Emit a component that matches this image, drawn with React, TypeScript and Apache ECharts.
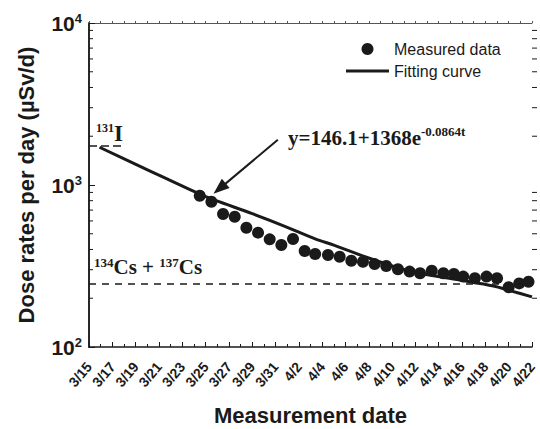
import { useEffect, useRef } from 'react';
import * as echarts from 'echarts';

// x axis: days since 3/15
const dateLabels = ['3/15', '3/17', '3/19', '3/21', '3/23', '3/25', '3/27', '3/29', '3/31', '4/2',
  '4/4', '4/6', '4/8', '4/10', '4/12', '4/14', '4/16', '4/18', '4/20', '4/22'];

const measuredDays = [9.5, 10.5, 11.5, 12.5, 13.5, 14.5, 15.5, 16.5, 17.5, 18.5,
  19.4, 20.5, 21.5, 22.5, 23.5, 24.5, 25.5, 26.5, 27.5, 28.4,
  29.4, 30.4, 31.3, 32.1, 33.1, 34.1, 35.0, 36.0, 36.9, 37.7];
const measuredValues = [859, 788, 662, 637, 545, 508, 462, 426, 464, 391,
  375, 370, 361, 341, 336, 325, 316, 302, 292, 285,
  296, 285, 282, 272, 266, 272, 266, 234, 247, 253];

const curveDays = [0.9, 5.2, 9.35, 10.8, 14.0, 16.8, 19.4, 21.0, 23.8, 26.7, 28.1, 31.8, 34.7, 36.1, 38];
const curveValues = [1710, 1224, 889, 806, 665, 556, 465, 425, 358, 305, 287, 259, 238, 223, 204];

const iodineDays = [0, 2.8];
const iodineLevel = 1740;
const cesiumDays = [0, 38];
const cesiumLevel = 245;

const logMinorTicks = [200, 300, 400, 500, 600, 700, 800, 900, 2000, 3000, 4000, 5000, 6000, 7000, 8000, 9000];

const arrowFrom = [16.2, 1900];
const arrowTo = [11.2, 950];

const SANS = '"Liberation Sans", Arial, sans-serif';
const SERIF = '"Liberation Serif", "Times New Roman", serif';
const INK = '#1a1a1a';

export default function App() {
  const ref = useRef<HTMLDivElement>(null);
  useEffect(() => {
    const chart = echarts.init(ref.current!, null, { renderer: 'svg' });
    const option: any = {
      animation: false,
      backgroundColor: '#fff',
      grid: { left: 89, right: 8, top: 23, bottom: 82, containLabel: false, outerBoundsMode: 'none' },
      legend: {
        data: [
          { name: 'Measured data', icon: 'circle' },
          { name: 'Fitting curve', icon: 'path://M0,0L43,0L43,3L0,3Z' },
        ],
        orient: 'vertical',
        left: 346,
        top: 41,
        itemWidth: 43,
        itemHeight: 12,
        itemGap: 6,
        padding: 0,
        symbolKeepAspect: true,
        textStyle: { fontFamily: SANS, fontSize: 16, color: INK },
      },
      xAxis: [
        {
          type: 'value', min: 0, max: 38, interval: 2, position: 'bottom',
          axisLine: { show: true, lineStyle: { color: INK, width: 1.5 } },
          axisTick: { show: true, inside: true, length: 5, lineStyle: { color: INK, width: 1 } },
          minorTick: { show: true, splitNumber: 2, length: 3, lineStyle: { color: INK, width: 1 } },
          splitLine: { show: false },
          axisLabel: {
            rotate: 50, margin: 17, verticalAlign: 'middle', padding: [5, 0, 0, 0],
            color: INK, fontFamily: SANS, fontWeight: 'bold', fontSize: 14,
            formatter: (v: number) => dateLabels[Math.round(v / 2)] ?? '',
          },
          name: 'Measurement date', nameLocation: 'middle', nameGap: 57,
          nameTextStyle: { fontFamily: SANS, fontWeight: 'bold', fontSize: 22, color: INK },
        },
        {
          type: 'value', min: 0, max: 38, interval: 1, position: 'top',
          axisLine: { show: true, lineStyle: { color: '#555', width: 1 } },
          axisTick: { show: true, inside: false, length: 2, lineStyle: { color: '#555', width: 1 } },
          axisLabel: { show: false },
          splitLine: { show: false },
        },
      ],
      yAxis: [
        {
          type: 'log', logBase: 10, min: 100, max: 10000, position: 'left',
          axisLine: { show: true, lineStyle: { color: INK, width: 1.5 } },
          axisTick: { show: true, inside: true, length: 6, lineStyle: { color: INK, width: 1 } },
          splitLine: { show: false },
          axisLabel: {
            margin: 7, color: INK,
            formatter: (v: number) => `{a|10}{b|${Math.round(Math.log10(v))}}`,
            rich: {
              a: { fontFamily: SANS, fontWeight: 'bold', fontSize: 21, color: INK, lineHeight: 22 },
              b: { fontFamily: SANS, fontWeight: 'bold', fontSize: 13, color: INK, verticalAlign: 'top', lineHeight: 14 },
            },
          },
          name: 'Dose rates per day (\u00b5Sv/d)', nameLocation: 'middle', nameGap: 52,
          nameTextStyle: { fontFamily: SANS, fontWeight: 'bold', fontSize: 22, color: INK },
        },
        {
          type: 'log', logBase: 10, min: 100, max: 10000, position: 'right',
          axisLine: { show: true, lineStyle: { color: INK, width: 1.5 } },
          axisTick: { show: true, inside: false, length: 5, lineStyle: { color: INK, width: 1 } },
          axisLabel: { show: false },
          splitLine: { show: false },
        },
      ],
      series: [
        {
          type: 'custom', silent: true, clip: false, xAxisIndex: 0, yAxisIndex: 0,
          data: logMinorTicks.map((v) => [0, v]),
          renderItem: (params: any, api: any) => {
            const p = api.coord([0, api.value(1)]);
            const cs = params.coordSys;
            return {
              type: 'group',
              children: [
                { type: 'line', shape: { x1: cs.x, y1: p[1], x2: cs.x + 4, y2: p[1] }, style: { stroke: INK, lineWidth: 1 } },
                { type: 'line', shape: { x1: cs.x + cs.width, y1: p[1], x2: cs.x + cs.width + 5, y2: p[1] }, style: { stroke: INK, lineWidth: 1 } },
              ],
            };
          },
        },
        {
          name: 'Iodine', type: 'line', symbol: 'none', silent: true,
          data: iodineDays.map((d) => [d, iodineLevel]),
          lineStyle: { color: INK, width: 1.5, type: [8, 4] },
        },
        {
          name: 'Cesium', type: 'line', symbol: 'none', silent: true,
          data: cesiumDays.map((d) => [d, cesiumLevel]),
          lineStyle: { color: INK, width: 1.5, type: [7, 6] },
          markLine: {
            silent: true,
            symbol: ['none', 'triangle'],
            symbolSize: [12, 16],
            label: { show: false },
            lineStyle: { color: INK, width: 2, type: 'solid' },
            data: [[{ coord: arrowFrom }, { coord: arrowTo }]],
          },
        },
        {
          name: 'Fitting curve', type: 'line', symbol: 'none', smooth: 0.3,
          data: curveDays.map((d, i) => [d, curveValues[i]]),
          lineStyle: { color: INK, width: 3 },
          itemStyle: { color: INK },
        },
        {
          name: 'Measured data', type: 'scatter', symbol: 'circle', symbolSize: 12,
          data: measuredDays.map((d, i) => [d, measuredValues[i]]),
          itemStyle: { color: INK, opacity: 1 },
        },
      ],
      graphic: [
        {
          type: 'text', left: 288, top: 127, silent: true,
          style: { text: 'y=146.1+1368e', font: `bold 21px ${SERIF}`, fill: INK },
        },
        {
          type: 'text', left: 421, top: 125, silent: true,
          style: { text: '-0.0864t', font: `bold 13px ${SERIF}`, fill: INK },
        },
        {
          type: 'text', left: 96, top: 122, silent: true,
          style: {
            text: '{s|131}{m|I}',
            rich: {
              s: { fontFamily: SERIF, fontWeight: 'bold', fontSize: 12, fill: INK, verticalAlign: 'top' },
              m: { fontFamily: SERIF, fontWeight: 'bold', fontSize: 23, fill: INK },
            },
          },
        },
        {
          type: 'text', left: 94, top: 256, silent: true,
          style: {
            text: '{s|134}{m|Cs + }{s|137}{m|Cs}',
            rich: {
              s: { fontFamily: SERIF, fontWeight: 'bold', fontSize: 13, fill: INK, verticalAlign: 'top' },
              m: { fontFamily: SERIF, fontWeight: 'bold', fontSize: 21, fill: INK },
            },
          },
        },
      ],
    };
    chart.setOption(option);
    return () => chart.dispose();
  }, []);
  return <div ref={ref} style={{ position: 'fixed', left: 0, top: 0, width: 540, height: 429 }} />;
}
